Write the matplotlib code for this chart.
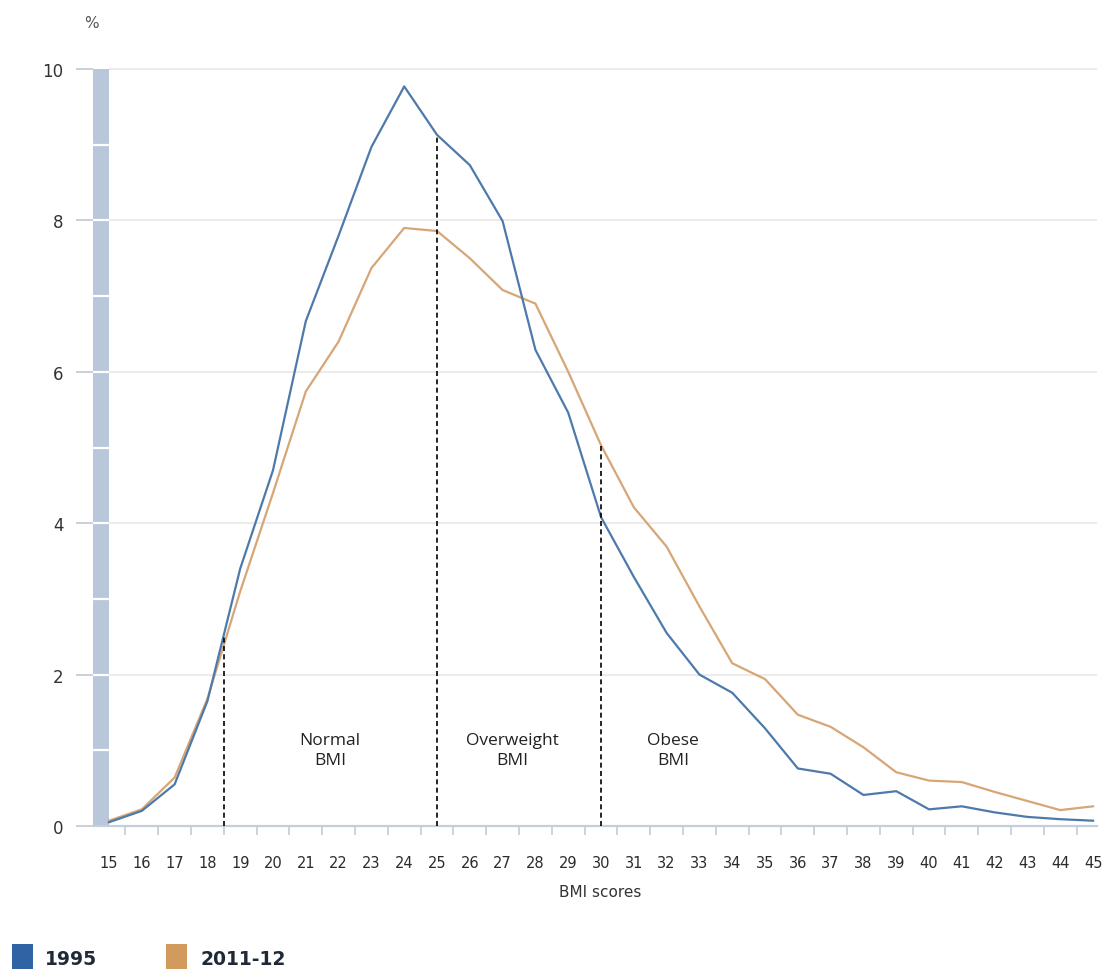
import numpy as np
import matplotlib
matplotlib.use("Agg")
import matplotlib.pyplot as plt
from matplotlib.patches import Rectangle

# BMI distribution, persons aged 18+ (%)
bmi = list(range(15, 46))
pct_1995 = [0.05, 0.2, 0.55, 1.65, 3.4, 4.7, 6.67, 7.8, 8.97, 9.77,
            9.13, 8.73, 7.99, 6.29, 5.46, 4.08, 3.29, 2.55, 2.0, 1.76,
            1.29, 0.76, 0.69, 0.41, 0.46, 0.22, 0.26, 0.18, 0.12, 0.09, 0.07]
pct_2011 = [0.07, 0.22, 0.64, 1.68, 3.1, 4.4, 5.74, 6.4, 7.37, 7.9,
            7.86, 7.5, 7.08, 6.9, 6.0, 5.03, 4.21, 3.69, 2.9, 2.15,
            1.94, 1.47, 1.31, 1.04, 0.71, 0.6, 0.58, 0.45, 0.33, 0.21, 0.26]
series_names = ["1995", "2011-12"]
cutoffs = [18.5, 25, 30]
zone_labels = ["Normal\nBMI", "Overweight\nBMI", "Obese\nBMI"]
zone_pos = [21.74, 27.29, 32.2]

BLUE_LINE = "#4d7aab"
ORANGE_LINE = "#d6a676"
BLUE_KEY = "#2f63a3"
ORANGE_KEY = "#d39a5e"
AXIS_COL = "#c5cfdc"

W, H = 1107, 970
fig = plt.figure(figsize=(W / 100, H / 100), dpi=100)
left, right, top, bottom = 92.6, 1097, 70, 827
ax = fig.add_axes([left / W, (H - bottom) / H, (right - left) / W, (bottom - top) / H])
ax.set_xlim(14.5, 45.12)
ax.set_ylim(0, 10)

# grey-blue bar on the value axis, cut into unit blocks
ax.axvspan(14.5, 15.0, color="#b8c7da", lw=0, zorder=1)
ax.hlines(range(1, 10), 14.5, 15.0, colors="white", lw=1.6, zorder=2)
# gridlines
ax.hlines([2, 4, 6, 8, 10], 15.0, 45.12, colors="#ebebeb", lw=1.5, zorder=0, clip_on=False)

ax.plot(bmi, pct_2011, color=ORANGE_LINE, lw=1.6, zorder=3)
ax.plot(bmi, pct_1995, color=BLUE_LINE, lw=1.6, zorder=4)

# dashed BMI cut-offs, up to the higher curve
tops = [max(np.interp(c, bmi, pct_1995), np.interp(c, bmi, pct_2011)) for c in cutoffs]
ax.vlines(cutoffs, 0, tops, colors="black", linestyles=(0, (3, 2)), lw=1.2, zorder=5)
for lab, xp in zip(zone_labels, zone_pos):
    ax.text(xp, 1.0, lab, ha="center", va="center", fontsize=12.5,
            family="Open Sans", color="#222222", linespacing=1.3)

for s in ["left", "top", "right"]:
    ax.spines[s].set_visible(False)
ax.spines["bottom"].set_color(AXIS_COL)
ax.spines["bottom"].set_linewidth(1.6)

ax.set_yticks([0, 2, 4, 6, 8, 10])
ax.tick_params(axis="y", length=12.2, width=1.3, color="#c8ccd4", pad=8.6,
               labelsize=12, labelcolor="#333333")
ax.set_xticks(bmi)
ax.set_xticks(np.arange(15.5, 45, 1), minor=True)
ax.tick_params(axis="x", which="major", length=0, pad=21, labelsize=10.5, labelcolor="#2b2b2b")
ax.tick_params(axis="x", which="minor", length=6.5, width=1.3, color=AXIS_COL)

fig.text(600 / W, 1 - 893 / H, "BMI scores", ha="center", va="center",
         fontsize=11, color="#333333")
fig.text(91 / W, 1 - 23 / H, "%", ha="center", va="center", fontsize=11, color="#555555")

# legend keys along the bottom edge
for x0, x1, tx, col, name in [(12, 33, 45, BLUE_KEY, series_names[0]),
                              (166, 187, 200, ORANGE_KEY, series_names[1])]:
    fig.patches.append(Rectangle((x0 / W, 0), (x1 - x0) / W, 25 / H,
                                 transform=fig.transFigure, color=col, lw=0))
    fig.text(tx / W, 1 - 960 / H, name, ha="left", va="center", fontsize=13.5,
             fontweight="bold", color="#1e2a38")

fig.savefig("out.png", dpi=100)
